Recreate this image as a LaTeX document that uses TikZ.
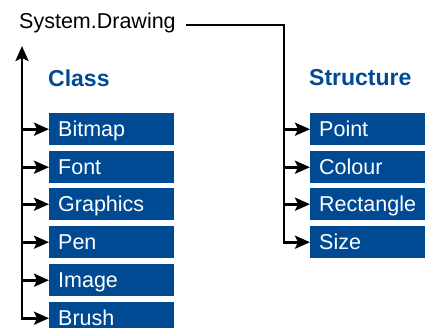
\documentclass[tikz,border=0pt]{standalone}
\usepackage{fontspec}
\setmainfont{Liberation Sans}
\usetikzlibrary{arrows.meta}
\definecolor{dsblue}{RGB}{0,74,148}
\tikzset{
  itembox/.style={fill=dsblue, text=white, anchor=north west, minimum width=125pt,
    minimum height=32pt, text width=107pt, inner xsep=9pt, inner ysep=0pt, align=left,
    text height=15pt, text depth=0pt, font=\fontsize{21.5}{25}\selectfont},
  sitembox/.style={itembox, minimum width=115pt, text width=97pt},
  heading/.style={anchor=west, inner sep=0pt, text=dsblue, font=\fontsize{23}{27}\selectfont\bfseries},
  conn/.style={line width=2.6pt, line join=miter},
  arrowed/.style={-{Stealth[length=15pt,width=13pt,inset=3pt]}},
  twoarrowed/.style={{Stealth[length=15pt,width=13pt,inset=3pt]}-{Stealth[length=15pt,width=13pt,inset=3pt]}}
}
\begin{document}
\begin{tikzpicture}[x=1pt,y=-1pt]
\useasboundingbox (0,0) rectangle (425,327);
\clip (0,0) rectangle (425,327);
\node[anchor=base west, inner sep=0pt, font=\fontsize{21.5}{26}\selectfont] (sys) at (19,28) {System.Drawing};
\node[heading] (class) at (48,78) {Class};
\node[heading] (struct) at (309,78) {Structure};
% class boxes
\node[itembox] (bitmap) at (49,113) {Bitmap};
\node[itembox] (font) at (49,151) {Font};
\node[itembox] (graphics) at (49,188) {Graphics};
\node[itembox] (pen) at (49,226) {Pen};
\node[itembox] (image) at (49,264) {Image};
\node[itembox] (brush) at (49,302) {Brush};
% structure boxes
\node[sitembox] (point) at (310,113) {Point};
\node[sitembox] (colour) at (310,151) {Colour};
\node[sitembox] (rect) at (310,188) {Rectangle};
\node[sitembox] (size) at (310,226) {Size};
% coordinates
\coordinate (ltop) at (22,46);
\coordinate (sysstart) at (186,25);
\coordinate (scorner) at (284,25);
% left tree
\draw[conn, twoarrowed] (ltop) |- (brush.west);
\foreach \n in {bitmap,font,graphics,pen,image}
  \draw[conn, arrowed] (ltop |- \n.west) -- (\n.west);
% right tree
\draw[conn, arrowed] (sysstart) -- (scorner) |- (size.west);
\foreach \n in {point,colour,rect}
  \draw[conn, arrowed] (scorner |- \n.west) -- (\n.west);
\end{tikzpicture}
\end{document}
